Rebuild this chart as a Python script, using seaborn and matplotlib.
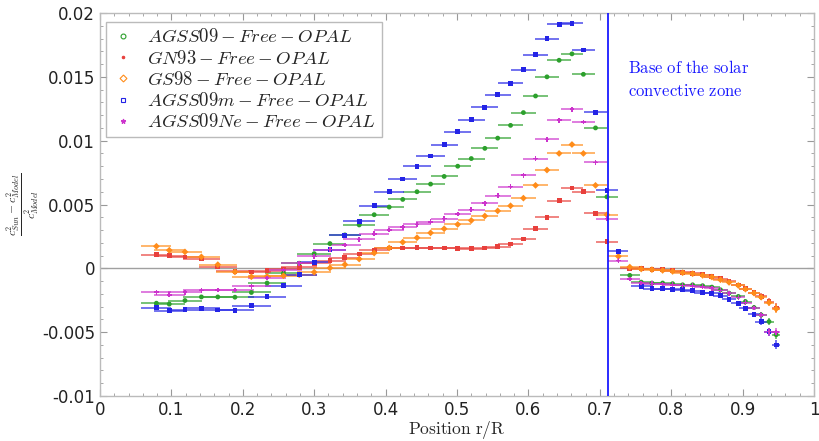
import numpy as np
import pandas as pd
import matplotlib
matplotlib.use('Agg')
import matplotlib.pyplot as plt
from matplotlib.lines import Line2D
from matplotlib.ticker import MultipleLocator, FuncFormatter
import seaborn as sns

nan = np.nan

# radiative zone points (r/R) and resolution half widths
r_core = [0.079, 0.097, 0.119, 0.142, 0.165, 0.189, 0.212, 0.234, 0.257, 0.279, 0.300,
          0.322, 0.343, 0.363, 0.384, 0.405, 0.424, 0.444, 0.463, 0.482, 0.501, 0.520,
          0.539, 0.557, 0.575, 0.593, 0.610, 0.626, 0.643, 0.661, 0.677, 0.694, 0.710]
xerr_core = [0.021, 0.022, 0.024, 0.026, 0.027, 0.027, 0.027, 0.027, 0.026, 0.025, 0.024,
             0.023, 0.022, 0.022, 0.021, 0.021, 0.020, 0.020, 0.020, 0.019, 0.019, 0.019,
             0.019, 0.018, 0.018, 0.018, 0.018, 0.017, 0.017, 0.016, 0.016, 0.016, 0.016]

# convective envelope points
r_env = [0.726, 0.742, 0.758, 0.773, 0.788, 0.802, 0.816, 0.830, 0.844, 0.857, 0.869,
         0.881, 0.894, 0.904, 0.916, 0.926, 0.937, 0.947]
xerr_env = [0.014, 0.014, 0.014, 0.013, 0.013, 0.013, 0.012, 0.012, 0.012, 0.011, 0.011,
            0.010, 0.010, 0.009, 0.008, 0.008, 0.007, 0.006]
yerr_env = [0.0001, 0.0001, 0.0001, 0.0001, 0.0001, 0.0001, 0.0001, 0.0001, 0.0001, 0.00012,
            0.00012, 0.00014, 0.00015, 0.00018, 0.0002, 0.00025, 0.0003, 0.00035]

# relative squared sound speed differences
agss09_core = [-0.00273, -0.0028, -0.00252, -0.00224, -0.00224, -0.00226, -0.00189, -0.00115,
               -0.00037, 0.0004, 0.00115, 0.00194, 0.00262, 0.0034, 0.0042, 0.0048, 0.0054,
               0.0060, 0.0066, 0.0072, 0.0080, 0.0086, 0.0094, 0.0102, 0.0112, 0.0122, 0.0135,
               0.0150, 0.0163, 0.0168, 0.0152, 0.0110, 0.0056]
gn93_core = [0.00108, 0.0010, 0.00089, 0.00076, 0.0001, -0.00024, -0.00029, -0.00018,
             -0.00005, 0.00008, 0.0004, 0.0006, 0.00084, 0.00113, 0.0014, 0.0016, 0.0016,
             0.00163, 0.0016, 0.0016, 0.00157, 0.00155, 0.0016, 0.0017, 0.0019, 0.0023, 0.0031,
             0.0040, 0.0053, 0.0063, 0.0060, 0.0043, 0.0021]
gs98_core = [0.00173, 0.00142, 0.00129, 0.0009, 0.00029, -0.00028, -0.00066, -0.00063,
             -0.00058, -0.0005, -0.0003, 0.00003, 0.0003, 0.00073, 0.0012, 0.0016, 0.00205,
             0.0024, 0.00278, 0.0031, 0.00344, 0.00375, 0.0041, 0.0045, 0.0049, 0.0055, 0.0065,
             0.0077, 0.0090, 0.0097, 0.0090, 0.0065, 0.0042]
agss09m_core = [-0.00307, -0.00333, -0.00323, -0.00312, -0.00326, -0.0033, -0.00294, -0.00223,
                -0.00136, -0.0005, 0.00047, 0.00147, 0.0026, 0.00367, 0.0049, 0.0060, 0.0070,
                0.0080, 0.0088, 0.0097, 0.0107, 0.01165, 0.0126, 0.0136, 0.0145, 0.01555,
                0.01675, 0.0180, 0.0191, 0.0192, 0.0171, 0.01223, 0.0061]
agss09ne_core = [-0.00186, -0.00207, -0.00186, -0.00173, -0.0017, -0.0017, -0.00139, -0.00076,
                 -0.00013, 0.0004, 0.00094, 0.00147, 0.00183, 0.00226, 0.0027, 0.0030, 0.00323,
                 0.00344, 0.00365, 0.0039, 0.00425, 0.0046, 0.0051, 0.0057, 0.0064, 0.0073,
                 0.0086, 0.0101, 0.0116, 0.01247, 0.01147, 0.0083, 0.0039]

agss09_env = [nan, -0.00055, -0.00108, -0.00115, -0.00115, -0.0012, -0.00129, -0.00129, -0.00136,
              -0.00147, -0.00168, -0.00194, -0.0022, -0.0026, -0.00307, -0.00365, -0.00417, -0.0052]
gn93_env = [nan, 0.0, -0.00002, -0.00008, -0.00012, -0.0002, -0.0003, -0.0004, -0.0005,
            -0.00065, -0.0008, -0.0010, -0.0013, -0.0016, -0.0019, -0.0022, -0.0026, -0.0031]
gs98_env = [0.00094, 0.0001, -0.00005, -0.0001, -0.00016, -0.00024, -0.00034, -0.00042, -0.00055,
            -0.00068, -0.00089, -0.0011, -0.00134, -0.00163, -0.00194, -0.00226, -0.00268, -0.00317]
agss09m_env = [0.00134, nan, -0.00142, -0.0016, -0.0016, -0.00163, -0.00168, -0.00176, -0.0019,
               -0.00194, -0.00213, -0.00241, -0.00273, -0.00312, -0.0036, -0.00417, -0.00496, -0.0060]
agss09ne_env = [0.0006, -0.00084, -0.00115, -0.0012, -0.00123, -0.00129, -0.00134, -0.00137,
                -0.00144, -0.00155, -0.00173, -0.00194, -0.00228, -0.00268, -0.0031, -0.00365,
                -0.00496, -0.0050]

models = ['AGSS09', 'GN93', 'GS98', 'AGSS09m', 'AGSS09Ne']
core_vals = [agss09_core, gn93_core, gs98_core, agss09m_core, agss09ne_core]
env_vals = [agss09_env, gn93_env, gs98_env, agss09m_env, agss09ne_env]
colors = {'AGSS09': '#2ca02c', 'GN93': '#e8403c', 'GS98': '#ff8c1a',
          'AGSS09m': '#2424e6', 'AGSS09Ne': '#cc33cc'}
plot_markers = {'AGSS09': 'o', 'GN93': 's', 'GS98': 'D', 'AGSS09m': 's', 'AGSS09Ne': 'P'}
legend_markers = {'AGSS09': ('o', 'none'), 'GN93': ('.', 'full'), 'GS98': ('D', 'none'),
                  'AGSS09m': ('s', 'none'), 'AGSS09Ne': ('*', 'full')}

rows = []
for m, cv, ev in zip(models, core_vals, env_vals):
    for r, v, xe in zip(r_core, cv, xerr_core):
        rows.append((m, r, v, xe, 0.00008))
    for r, v, xe, ye in zip(r_env, ev, xerr_env, yerr_env):
        rows.append((m, r, v, xe, ye))
df = pd.DataFrame(rows, columns=['model', 'r', 'dc2', 'xerr', 'yerr']).dropna()

sns.set_style('ticks')
plt.rcParams['font.family'] = ['DejaVu Sans']
plt.rcParams['mathtext.fontset'] = 'cm'

fig = plt.figure(figsize=(8.19, 4.41), dpi=100)
ax = fig.add_axes([0.1221, 0.102, 0.8718, 0.8685])

ax.axhline(0, color='#a0a0a0', lw=1.0, zorder=1)
ax.axvline(0.711, color='#1a1aff', lw=1.3, zorder=5)

for m in models:
    g = df[df['model'] == m]
    ax.errorbar(g['r'], g['dc2'], xerr=g['xerr'], yerr=g['yerr'], fmt='none',
                ecolor=colors[m], elinewidth=1.2, alpha=0.75, capsize=0, zorder=2)

sns.scatterplot(data=df, x='r', y='dc2', hue='model', style='model', palette=colors,
                markers=plot_markers, s=12, linewidth=0, legend=False, ax=ax, zorder=3)

ax.set_xlim(0, 1)
ax.set_ylim(-0.01, 0.02)
ax.xaxis.set_major_locator(MultipleLocator(0.1))
ax.xaxis.set_minor_locator(MultipleLocator(0.02))
ax.yaxis.set_major_locator(MultipleLocator(0.005))
ax.yaxis.set_minor_locator(MultipleLocator(0.001))
fmt = FuncFormatter(lambda v, p: f'{round(v, 4) + 0.0:g}')
ax.xaxis.set_major_formatter(fmt)
ax.yaxis.set_major_formatter(fmt)
ax.tick_params(which='both', direction='in', top=True, right=True, color='#999999',
               labelsize=12, labelcolor='#222222')
ax.tick_params(which='major', length=5)
ax.tick_params(which='minor', length=2.5)
for s in ax.spines.values():
    s.set_color('#bbbbbb')
    s.set_linewidth(1.0)

ax.set_xlabel(r'$\mathrm{Position\ r/R}$', fontsize=12.5, labelpad=0)
ax.set_ylabel(r'$\frac{c^2_{Sun}-c^2_{Model}}{c^2_{Model}}$', fontsize=12)
ax.yaxis.set_label_coords(-0.082, 0.5)

ax.text(0.74, 0.0148, r'$\mathrm{Base\ of\ the\ solar}$' + '\n' + r'$\mathrm{convective\ zone}$',
        color='#1a1aff', fontsize=12, va='center', ha='left', linespacing=1.4)

handles = [Line2D([], [], ls='none', marker=legend_markers[m][0], fillstyle=legend_markers[m][1],
                  color=colors[m], ms=3.5, mew=0.8) for m in models]
labels = [rf'${m}-Free-OPAL$' for m in models]
ax.legend(handles, labels, loc='upper left', bbox_to_anchor=(0.008, 0.977), borderaxespad=0,
          frameon=True, fancybox=False, edgecolor='#aaaaaa', fontsize=13.5,
          handlelength=1.2, handletextpad=0.7, labelspacing=0.12, borderpad=0.3)

fig.savefig('out.png', dpi=100)
